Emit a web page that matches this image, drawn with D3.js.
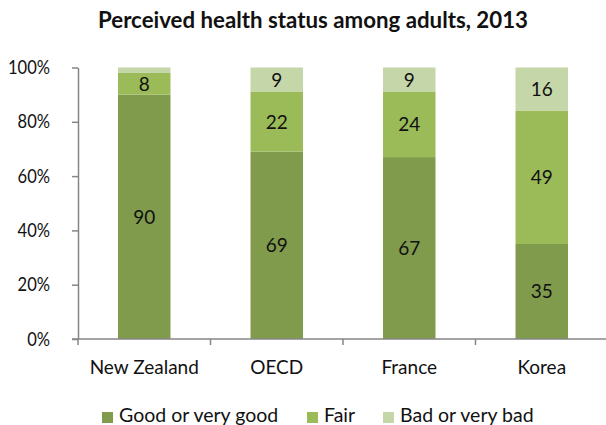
<!DOCTYPE html>
<html>
<head>
<meta charset="utf-8">
<script src="https://cdn.jsdelivr.net/npm/d3@7"></script>
<style>
  html, body { margin: 0; padding: 0; background: #fff; }
  svg { display: block; font-family: Lato, "Open Sans", sans-serif; }
</style>
</head>
<body>
<svg id="chart" width="606" height="425"></svg>
<script>
// Perceived health status among adults, 2013 (% of adult population)
const categories = ["New Zealand", "OECD", "France", "Korea"];
const good = [90, 69, 67, 35];
const fair = [8, 22, 24, 49];
const bad = [2, 9, 9, 16];
const seriesNames = ["Good or very good", "Fair", "Bad or very bad"];
const yTicks = [0, 20, 40, 60, 80, 100];
const title = "Perceived health status among adults, 2013";

const colors = ["#7f9b4b", "#9bbb59", "#c5d6a9"];
const seriesValues = [good, fair, bad];

const svg = d3.select("#chart");

// stacked rows
const rows = categories.map((c, i) => {
  const r = { cat: c };
  seriesNames.forEach((s, k) => r[s] = seriesValues[k][i]);
  return r;
});
const stacked = d3.stack().keys(seriesNames)(rows);

const plotLeft = 78, plotRight = 608, plotTop = 67.5, plotBottom = 339;
const pad = 0.604;
const x = d3.scaleBand().domain(categories).range([plotLeft, plotRight])
  .paddingInner(pad).paddingOuter(pad / 2);
const y = d3.scaleLinear().domain([0, 100]).range([plotBottom, plotTop]);

const axisColor = "#868686";

// squeeze a text horizontally to a fraction of its natural width
function condense(sel, factor) {
  sel.each(function () {
    const w = this.getComputedTextLength();
    d3.select(this).attr("textLength", w * factor).attr("lengthAdjust", "spacingAndGlyphs");
  });
}

// bars
const layers = svg.append("g").selectAll("g").data(stacked).join("g")
  .attr("fill", (d, i) => colors[i]);
layers.selectAll("rect").data(d => d).join("rect")
  .attr("x", d => x(d.data.cat))
  .attr("width", x.bandwidth())
  .attr("y", d => y(d[1]))
  .attr("height", d => y(d[0]) - y(d[1]));

// segment value labels (the tiny 2% segment is left unlabelled)
stacked.forEach(layer => {
  svg.append("g").selectAll("text")
    .data(layer.filter(d => d[1] - d[0] >= 5))
    .join("text")
    .attr("x", d => x(d.data.cat) + x.bandwidth() / 2)
    .attr("y", d => y((d[0] + d[1]) / 2))
    .attr("dy", "0.36em")
    .attr("text-anchor", "middle")
    .attr("font-size", 19)
    .attr("fill", "#111")
    .text(d => d[1] - d[0]);
});

// y axis
const yAxis = svg.append("g")
  .attr("transform", `translate(${plotLeft},0)`)
  .call(d3.axisLeft(y).tickValues(yTicks).tickFormat(d => d + "%").tickSize(6).tickSizeOuter(0));
yAxis.select(".domain").attr("stroke", axisColor).attr("stroke-width", 1.5);
yAxis.selectAll(".tick line").attr("stroke", axisColor).attr("stroke-width", 1.5);
yAxis.selectAll(".tick text")
  .attr("x", -28).attr("font-size", 19).attr("font-family", "Lato, sans-serif")
  .attr("fill", "#111")
  .call(condense, 0.87);

// x axis: category labels centred in each band, ticks at band boundaries
const xAxis = svg.append("g")
  .attr("transform", `translate(0,${plotBottom})`)
  .call(d3.axisBottom(x).tickSize(0).tickSizeOuter(0));
xAxis.select(".domain").remove();
xAxis.selectAll(".tick text")
  .attr("y", 28).attr("dy", "0.36em")
  .attr("font-size", 19).attr("font-family", "Lato, sans-serif").attr("fill", "#111");

svg.append("line")
  .attr("x1", plotLeft - 6).attr("x2", plotRight)
  .attr("y1", plotBottom).attr("y2", plotBottom)
  .attr("stroke", axisColor).attr("stroke-width", 1.5);
const step = x.step();
const bounds = d3.range(categories.length + 1).map(i => plotLeft + i * step);
svg.append("g").selectAll("line").data(bounds).join("line")
  .attr("x1", d => d).attr("x2", d => d)
  .attr("y1", plotBottom).attr("y2", plotBottom + 6)
  .attr("stroke", axisColor).attr("stroke-width", 1.5);

// title
svg.append("text")
  .attr("x", 313).attr("y", 28)
  .attr("text-anchor", "middle")
  .attr("font-size", 22).attr("font-weight", "bold")
  .attr("textLength", 430).attr("lengthAdjust", "spacingAndGlyphs")
  .attr("fill", "#111")
  .text(title);

// legend
const legendX = [102, 307, 383];
const legend = svg.append("g").selectAll("g").data(seriesNames).join("g")
  .attr("transform", (d, i) => `translate(${legendX[i]},412)`);
legend.append("rect").attr("width", 11).attr("height", 11)
  .attr("fill", (d, i) => colors[i]);
legend.append("text")
  .attr("x", 17).attr("y", 10)
  .attr("font-size", 19.5).attr("fill", "#111")
  .text(d => d);
</script>
</body>
</html>
